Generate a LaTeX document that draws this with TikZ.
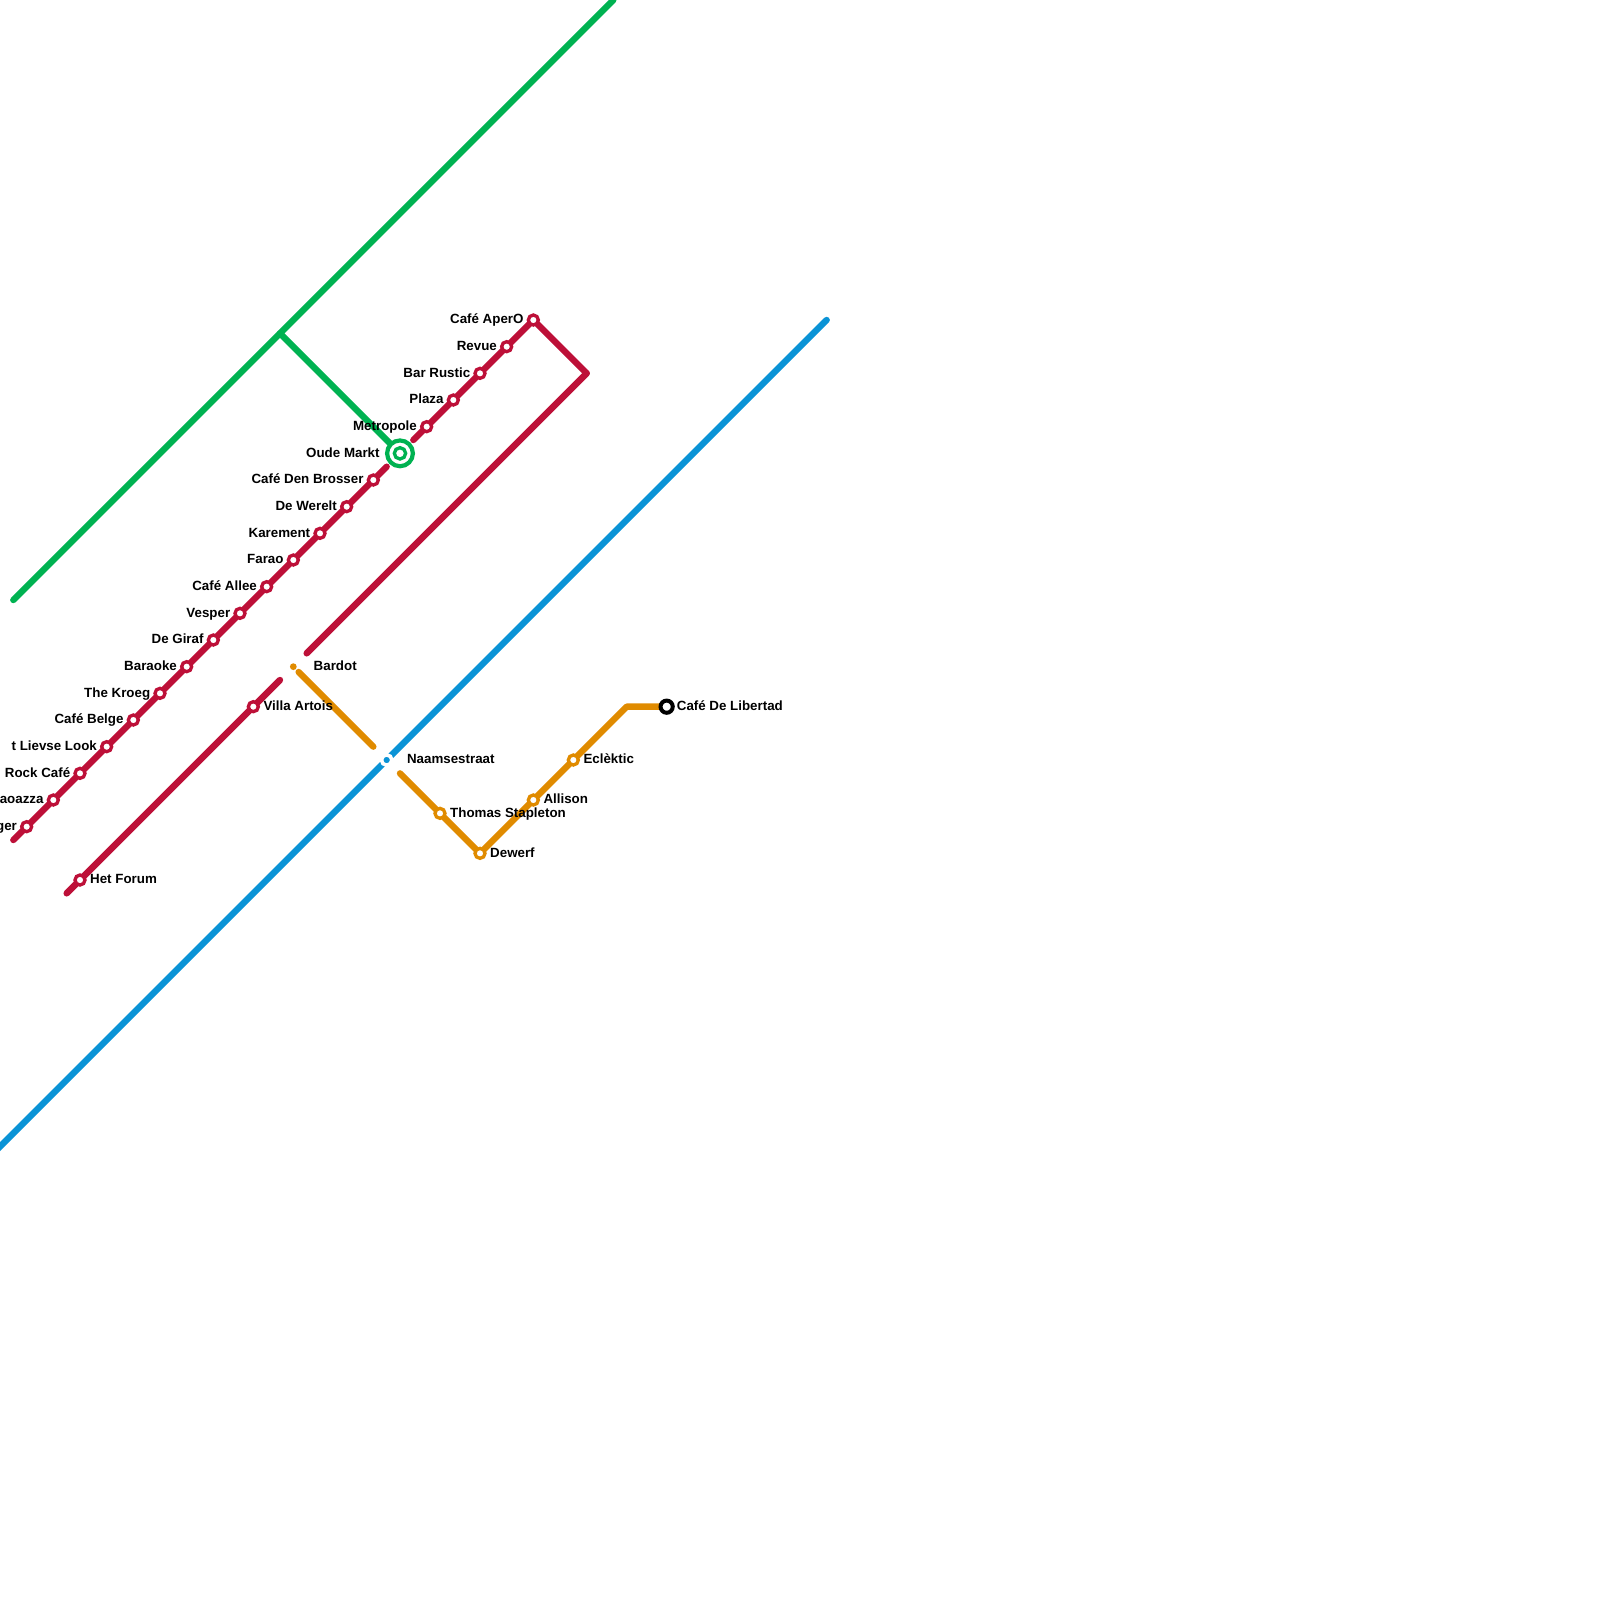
\documentclass[tikz,border=0pt]{standalone}
\usepackage{fontspec}
\setmainfont{Liberation Sans}
\usetikzlibrary{backgrounds}
\definecolor{redl}{HTML}{BD1038}
\definecolor{greenl}{HTML}{00B251}
\definecolor{bluel}{HTML}{0A93D6}
\definecolor{orangel}{HTML}{E08B00}
\tikzset{
  metro/.style={line width=3.2pt,line cap=round,line join=round},
  stationring/.style={circle,inner sep=0pt,minimum size=5pt,draw=#1,line width=1.67pt,fill=white},
  smalldot/.style={circle,inner sep=0pt,minimum size=3.4pt,fill=#1},
  lab/.style={font=\fontsize{6.67pt}{8pt}\selectfont\bfseries,inner sep=0pt,text=black},
  labl/.style={lab,anchor=base east,xshift=-4.7pt,yshift=-1.9pt},
  labr/.style={lab,anchor=base west,xshift=4.9pt,yshift=-1.9pt},
  labfar/.style={lab,anchor=base west,xshift=10pt,yshift=-1.9pt},
  gap/.style={shorten #1=9.43pt}
}
\begin{document}
\begin{tikzpicture}[x=6.6667pt,y=-6.6667pt]
\useasboundingbox (0,0) rectangle (120,120);
\clip (0,0) rectangle (120,120);
% red line stations, left labels
\foreach \x/\t in {2/ger,4/aoazza,6/Rock Café,8/t Lievse Look,10/Café Belge,12/The Kroeg,14/Baraoke,16/De Giraf,18/Vesper,20/Café Allee,22/Farao,24/Karement,26/De Werelt,28/Café Den Brosser,32/Metropole,34/Plaza,36/Bar Rustic,38/Revue,40/Café AperO}{
  \node[stationring=redl] (s\x) at (\x,64-\x) {};
  \node[labl] (l\x) at (\x,64-\x) {\t};
}
\node[stationring=redl] (villa) at (19,53) {};
\node[labr] (lvilla) at (19,53) {Villa Artois};
\node[stationring=redl] (forum) at (6,66) {};
\node[labr] (lforum) at (6,66) {Het Forum};
% orange line stations
\node[stationring=orangel] (thomas) at (33,61) {};
\node[labr] (lthomas) at (33,61) {Thomas Stapleton};
\node[stationring=orangel] (dewerf) at (36,64) {};
\node[labr] (ldewerf) at (36,64) {Dewerf};
\node[stationring=orangel] (allison) at (40,60) {};
\node[labr] (lallison) at (40,60) {Allison};
\node[stationring=orangel] (eclektic) at (43,57) {};
\node[labr] (leclektic) at (43,57) {Eclèktic};
\node[circle,inner sep=0pt,minimum size=6.1pt,draw=black,line width=2pt,fill=white] (libertad) at (50,53) {};
\node[labr] (llibertad) at (50,53) {Café De Libertad};
% special stations
\node[circle,draw=white,line width=1.8pt,fill=bluel,inner sep=0pt,minimum size=5.2pt] (naam) at (29,57) {};
\node[labfar] (lnaam) at (29,57) {Naamsestraat};
\node[smalldot=orangel] (bardot) at (22,50) {};
\node[labfar] (lbardot) at (22,50) {Bardot};
\node[circle,inner sep=0pt,minimum size=12.9pt,draw=greenl,line width=2.1pt,fill=white] (oude) at (30,34) {};
\node[circle,inner sep=0pt,minimum size=5.67pt,draw=greenl,line width=1.67pt,fill=white] (oudein) at (30,34) {};
\node[lab,anchor=base east,xshift=-10pt,yshift=-1.9pt] (loude) at (30,34) {Oude Markt};
% free ends and bends
\coordinate (redA) at (1,63);
\coordinate (redB) at (44,28);
\coordinate (redC) at (5,67);
\coordinate (greenA) at (1,45);
\coordinate (greenB) at (46,0);
\coordinate (greenJ) at (21,25);
\coordinate (blueA) at (62,24);
\coordinate (blueB) at (-1,87);
\coordinate (orangeB) at (47,53);
\begin{scope}[on background layer]
\draw[metro,bluel] (blueA) -- (naam.center) -- (blueB);
\draw[metro,greenl] (greenA) -- (greenJ) -- (greenB);
\draw[metro,greenl] (greenJ) -- (oude.center);
\draw[metro,redl] (redA) -- (s2.center) -- (s4.center) -- (s6.center) -- (s8.center) -- (s10.center) -- (s12.center) -- (s14.center) -- (s16.center) -- (s18.center) -- (s20.center) -- (s22.center) -- (s24.center) -- (s26.center) -- (s28.center);
\draw[metro,redl,gap=>] (s28.center) -- (oude.center);
\draw[metro,redl,gap=<] (oude.center) -- (s32.center);
\draw[metro,redl] (s32.center) -- (s34.center) -- (s36.center) -- (s38.center) -- (s40.center) -- (redB);
\draw[metro,redl,gap=>] (redB) -- (bardot.center);
\draw[metro,redl,gap=<] (bardot.center) -- (villa.center);
\draw[metro,redl] (villa.center) -- (forum.center) -- (redC);
\draw[metro,orangel,shorten <=3.77pt,gap=>] (bardot.center) -- (naam.center);
\draw[metro,orangel,gap=<] (naam.center) -- (thomas.center);
\draw[metro,orangel] (thomas.center) -- (dewerf.center) -- (allison.center) -- (eclektic.center) -- (orangeB) -- (libertad.center);
\end{scope}
\end{tikzpicture}
\end{document}
